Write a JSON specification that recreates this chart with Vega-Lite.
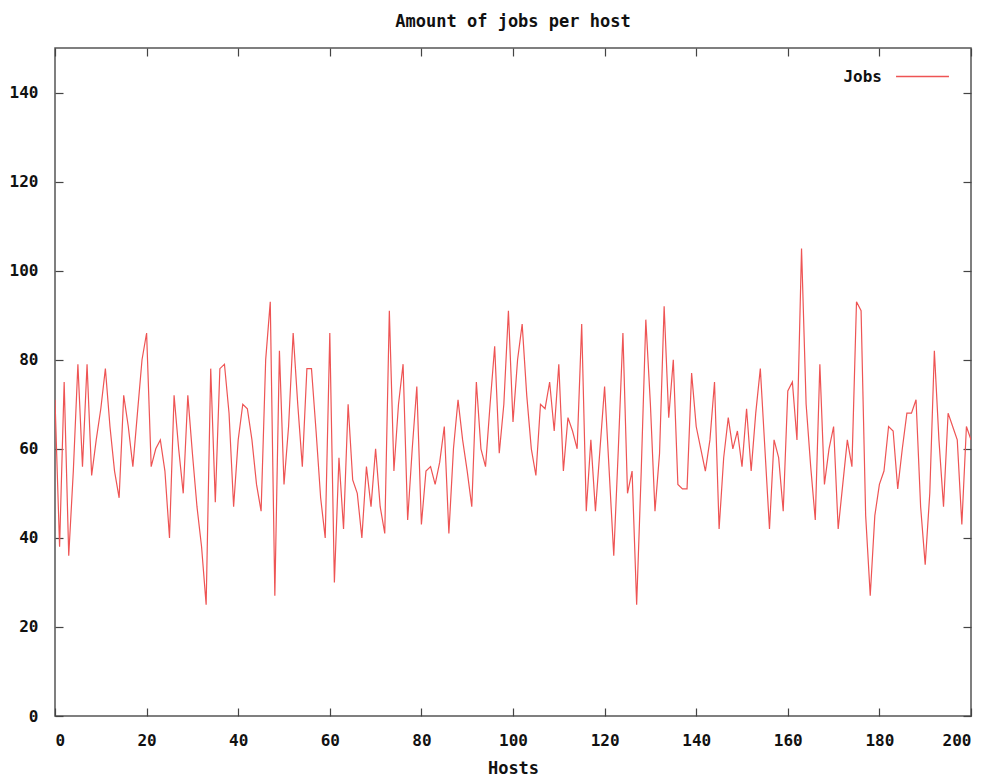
{
  "$schema": "https://vega.github.io/schema/vega-lite/v6.json",
  "autosize": "none",
  "width": 916,
  "height": 668,
  "padding": {"left": 55, "top": 48, "right": 25, "bottom": 62},
  "background": "white",
  "title": {"text": "Amount of jobs per host", "font": "DejaVu Sans Mono", "fontSize": 17, "fontWeight": "bold", "color": "#111", "offset": 16, "anchor": "middle"},
  "config": {
    "view": {"stroke": "#555", "strokeWidth": 1.5},
    "axis": {"grid": false, "domain": false, "labelFont": "DejaVu Sans Mono", "labelFontWeight": "bold", "labelFontSize": 16, "labelColor": "#111", "titleFont": "DejaVu Sans Mono", "titleFontWeight": "bold", "titleFontSize": 17, "titleColor": "#111", "tickColor": "#444", "tickWidth": 1.2}
  },
  "data": {"values": [
    {"host":0,"jobs":71},{"host":1,"jobs":38},{"host":2,"jobs":75},{"host":3,"jobs":36},{"host":4,"jobs":55},{"host":5,"jobs":79},{"host":6,"jobs":56},{"host":7,"jobs":79},{"host":8,"jobs":54},{"host":9,"jobs":62},
    {"host":10,"jobs":69},{"host":11,"jobs":78},{"host":12,"jobs":65},{"host":13,"jobs":55},{"host":14,"jobs":49},{"host":15,"jobs":72},{"host":16,"jobs":65},{"host":17,"jobs":56},{"host":18,"jobs":68},{"host":19,"jobs":80},
    {"host":20,"jobs":86},{"host":21,"jobs":56},{"host":22,"jobs":60},{"host":23,"jobs":62},{"host":24,"jobs":55},{"host":25,"jobs":40},{"host":26,"jobs":72},{"host":27,"jobs":60},{"host":28,"jobs":50},{"host":29,"jobs":72},
    {"host":30,"jobs":59},{"host":31,"jobs":47},{"host":32,"jobs":38},{"host":33,"jobs":25},{"host":34,"jobs":78},{"host":35,"jobs":48},{"host":36,"jobs":78},{"host":37,"jobs":79},{"host":38,"jobs":68},{"host":39,"jobs":47},
    {"host":40,"jobs":62},{"host":41,"jobs":70},{"host":42,"jobs":69},{"host":43,"jobs":62},{"host":44,"jobs":52},{"host":45,"jobs":46},{"host":46,"jobs":80},{"host":47,"jobs":93},{"host":48,"jobs":27},{"host":49,"jobs":82},
    {"host":50,"jobs":52},{"host":51,"jobs":65},{"host":52,"jobs":86},{"host":53,"jobs":70},{"host":54,"jobs":56},{"host":55,"jobs":78},{"host":56,"jobs":78},{"host":57,"jobs":64},{"host":58,"jobs":49},{"host":59,"jobs":40},
    {"host":60,"jobs":86},{"host":61,"jobs":30},{"host":62,"jobs":58},{"host":63,"jobs":42},{"host":64,"jobs":70},{"host":65,"jobs":53},{"host":66,"jobs":50},{"host":67,"jobs":40},{"host":68,"jobs":56},{"host":69,"jobs":47},
    {"host":70,"jobs":60},{"host":71,"jobs":47},{"host":72,"jobs":41},{"host":73,"jobs":91},{"host":74,"jobs":55},{"host":75,"jobs":70},{"host":76,"jobs":79},{"host":77,"jobs":44},{"host":78,"jobs":60},{"host":79,"jobs":74},
    {"host":80,"jobs":43},{"host":81,"jobs":55},{"host":82,"jobs":56},{"host":83,"jobs":52},{"host":84,"jobs":57},{"host":85,"jobs":65},{"host":86,"jobs":41},{"host":87,"jobs":60},{"host":88,"jobs":71},{"host":89,"jobs":62},
    {"host":90,"jobs":55},{"host":91,"jobs":47},{"host":92,"jobs":75},{"host":93,"jobs":60},{"host":94,"jobs":56},{"host":95,"jobs":70},{"host":96,"jobs":83},{"host":97,"jobs":59},{"host":98,"jobs":70},{"host":99,"jobs":91},
    {"host":100,"jobs":66},{"host":101,"jobs":80},{"host":102,"jobs":88},{"host":103,"jobs":72},{"host":104,"jobs":60},{"host":105,"jobs":54},{"host":106,"jobs":70},{"host":107,"jobs":69},{"host":108,"jobs":75},{"host":109,"jobs":64},
    {"host":110,"jobs":79},{"host":111,"jobs":55},{"host":112,"jobs":67},{"host":113,"jobs":64},{"host":114,"jobs":60},{"host":115,"jobs":88},{"host":116,"jobs":46},{"host":117,"jobs":62},{"host":118,"jobs":46},{"host":119,"jobs":60},
    {"host":120,"jobs":74},{"host":121,"jobs":55},{"host":122,"jobs":36},{"host":123,"jobs":60},{"host":124,"jobs":86},{"host":125,"jobs":50},{"host":126,"jobs":55},{"host":127,"jobs":25},{"host":128,"jobs":55},{"host":129,"jobs":89},
    {"host":130,"jobs":70},{"host":131,"jobs":46},{"host":132,"jobs":59},{"host":133,"jobs":92},{"host":134,"jobs":67},{"host":135,"jobs":80},{"host":136,"jobs":52},{"host":137,"jobs":51},{"host":138,"jobs":51},{"host":139,"jobs":77},
    {"host":140,"jobs":65},{"host":141,"jobs":60},{"host":142,"jobs":55},{"host":143,"jobs":62},{"host":144,"jobs":75},{"host":145,"jobs":42},{"host":146,"jobs":58},{"host":147,"jobs":67},{"host":148,"jobs":60},{"host":149,"jobs":64},
    {"host":150,"jobs":56},{"host":151,"jobs":69},{"host":152,"jobs":55},{"host":153,"jobs":68},{"host":154,"jobs":78},{"host":155,"jobs":60},{"host":156,"jobs":42},{"host":157,"jobs":62},{"host":158,"jobs":58},{"host":159,"jobs":46},
    {"host":160,"jobs":73},{"host":161,"jobs":75},{"host":162,"jobs":62},{"host":163,"jobs":105},{"host":164,"jobs":70},{"host":165,"jobs":56},{"host":166,"jobs":44},{"host":167,"jobs":79},{"host":168,"jobs":52},{"host":169,"jobs":60},
    {"host":170,"jobs":65},{"host":171,"jobs":42},{"host":172,"jobs":52},{"host":173,"jobs":62},{"host":174,"jobs":56},{"host":175,"jobs":93},{"host":176,"jobs":91},{"host":177,"jobs":45},{"host":178,"jobs":27},{"host":179,"jobs":45},
    {"host":180,"jobs":52},{"host":181,"jobs":55},{"host":182,"jobs":65},{"host":183,"jobs":64},{"host":184,"jobs":51},{"host":185,"jobs":60},{"host":186,"jobs":68},{"host":187,"jobs":68},{"host":188,"jobs":71},{"host":189,"jobs":47},
    {"host":190,"jobs":34},{"host":191,"jobs":50},{"host":192,"jobs":82},{"host":193,"jobs":62},{"host":194,"jobs":47},{"host":195,"jobs":68},{"host":196,"jobs":65},{"host":197,"jobs":62},{"host":198,"jobs":43},{"host":199,"jobs":65},
    {"host":200,"jobs":62}
  ]},
  "layer": [
    {
      "mark": {"type": "line", "strokeWidth": 1.2, "clip": true},
      "encoding": {
        "x": {"field": "host", "type": "quantitative", "scale": {"domain": [0, 200], "nice": false}, "axis": {"orient": "bottom", "title": "Hosts", "values": [0,20,40,60,80,100,120,140,160,180,200], "tickSize": -8, "labelPadding": 24, "titlePadding": 12}},
        "y": {"field": "jobs", "type": "quantitative", "scale": {"domain": [0, 150], "nice": false}, "axis": {"orient": "left", "title": null, "values": [0,20,40,60,80,100,120,140], "tickSize": -8, "labelPadding": 25}},
        "color": {"datum": "Jobs", "type": "nominal", "scale": {"range": ["#ee5454"]}, "legend": {"title": null, "orient": "none", "legendX": 840, "legendY": 1, "symbolType": "stroke", "symbolSize": 2800, "symbolStrokeWidth": 1.5, "labelFont": "DejaVu Sans Mono", "labelFontWeight": "bold", "labelFontSize": 16, "labelColor": "#111", "labelAlign": "right", "labelOffset": -68}}
      }
    },
    {
      "mark": {"type": "line", "opacity": 0},
      "encoding": {
        "x": {"field": "host", "type": "quantitative", "scale": {"domain": [0, 200], "nice": false}, "axis": {"orient": "top", "title": null, "labels": false, "values": [0,20,40,60,80,100,120,140,160,180,200], "tickSize": -8}},
        "y": {"field": "jobs", "type": "quantitative", "scale": {"domain": [0, 150], "nice": false}, "axis": {"orient": "right", "title": null, "labels": false, "values": [0,20,40,60,80,100,120,140], "tickSize": -8}}
      }
    }
  ],
  "resolve": {"axis": {"x": "independent", "y": "independent"}}
}
